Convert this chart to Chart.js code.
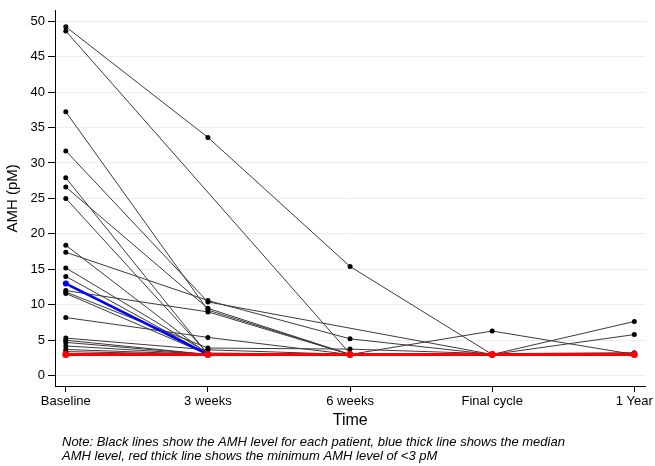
<!DOCTYPE html>
<html lang="en">
<head>
    <meta charset="UTF-8">
    <title>AMH over time</title>
    <script src="https://cdn.jsdelivr.net/npm/chart.js"></script>
    <style>
        body { margin: 0; background: #fff; }
    </style>
</head>
<body>
    <canvas id="amhChart" width="655" height="466"></canvas>

    <script>
        // time points on the x axis
        const timePoints = ["Baseline", "3 weeks", "6 weeks", "Final cycle", "1 Year"];
        const yTicks = [0, 5, 10, 15, 20, 25, 30, 35, 40, 45, 50];

        // AMH (pM) for each patient, null = not measured
        const patientAMH = [
            [49.2, 33.6, 15.4, 3.0, 3.0],
            [48.6, null, 3.1, 3.0, 3.0],
            [37.2, 9.25, 3.0, 3.0, 3.0],
            [31.7, 10.4, null, 3.0, 5.8],
            [27.9, 3.0, 3.0, 3.0, 3.0],
            [26.6, 9.5, 3.0, 3.0, 3.0],
            [25.0, 3.1, 3.0, 3.0, 3.0],
            [18.4, 3.0, 3.0, 3.0, 3.0],
            [17.4, 10.6, 5.2, 3.0, 3.0],
            [15.2, 3.2, 3.0, 3.0, 3.0],
            [14.0, 3.0, 3.0, 3.0, 3.0],
            [12.0, 9.0, 3.0, 6.3, 3.0],
            [11.8, 3.9, 3.75, 3.1, 3.25],
            [11.6, 3.0, 3.0, 3.0, 7.65],
            [8.2, 5.4, 3.0, 3.0, 3.0],
            [5.3, 3.65, 3.0, 3.0, 3.0],
            [5.0, 3.0, 3.0, 3.0, null],
            [4.7, 3.0, 3.0, 3.0, null],
            [4.2, 3.0, null, null, null],
            [3.7, 3.0, 3.0, null, null],
            [3.4, 3.0, null, null, null]
        ];
        const medianAMH = [13.0, 3.0, 3.0, 3.0, 3.0];
        const minimumAMH = [3.0, 3.0, 3.0, 3.0, 3.0];

        const noteLines = [
            "Note: Black lines show the AMH level for each patient, blue thick line shows the median",
            "AMH level, red thick line shows the minimum AMH level of <3 pM"
        ];

        const FONT = "'Liberation Sans', Arial, Helvetica, sans-serif";

        function toPoints(values) {
            return values.map((v, i) => ({ x: i, y: v }));
        }

        let datasets = [];

        // red first so it is drawn on top
        datasets.push({
            data: toPoints(minimumAMH),
            borderColor: "#ff0000",
            backgroundColor: "#ff0000",
            borderWidth: 3,
            pointRadius: 3.5,
            pointBorderWidth: 0
        });
        datasets.push({
            data: toPoints(medianAMH),
            borderColor: "#0000ff",
            backgroundColor: "#0000ff",
            borderWidth: 2.5,
            pointRadius: 3,
            pointBorderWidth: 0
        });
        patientAMH.forEach(function (row) {
            datasets.push({
                data: toPoints(row),
                borderColor: "#3a3a3a",
                backgroundColor: "#000000",
                borderWidth: 1,
                pointRadius: 2.5,
                pointBorderWidth: 0,
                spanGaps: true
            });
        });

        const notePlugin = {
            id: "note",
            afterDraw(chart) {
                const ctx = chart.ctx;
                ctx.save();
                ctx.fillStyle = "#000";
                ctx.font = "italic 13px " + FONT;
                ctx.textBaseline = "middle";
                ctx.textAlign = "left";
                ctx.fillText(noteLines[0], 62, 442);
                ctx.fillText(noteLines[1], 62, 456);
                ctx.restore();
            }
        };

        new Chart(document.getElementById("amhChart"), {
            type: "line",
            data: { datasets: datasets },
            options: {
                responsive: false,
                animation: false,
                devicePixelRatio: 1,
                layout: { padding: { left: 0, right: 7, top: 7, bottom: 36 } },
                plugins: {
                    legend: { display: false },
                    tooltip: { enabled: false }
                },
                elements: { line: { tension: 0 } },
                scales: {
                    x: {
                        type: "linear",
                        min: -0.076,
                        max: 4.079,
                        afterBuildTicks: function (scale) {
                            scale.ticks = timePoints.map((t, i) => ({ value: i }));
                        },
                        afterFit: function (scale) { scale.height = 44; },
                        ticks: {
                            autoSkip: false,
                            maxRotation: 0,
                            padding: 2,
                            color: "#000",
                            font: { family: FONT, size: 13 },
                            callback: function (value) { return timePoints[value]; }
                        },
                        grid: {
                            drawOnChartArea: false,
                            tickLength: 6,
                            tickColor: "#000"
                        },
                        border: { color: "#000", width: 1 },
                        title: {
                            display: true,
                            text: "Time",
                            color: "#000",
                            padding: { top: 0, bottom: 0 },
                            font: { family: FONT, size: 16 }
                        }
                    },
                    y: {
                        min: -1.45,
                        max: 51.45,
                        afterBuildTicks: function (scale) {
                            scale.ticks = yTicks.map(v => ({ value: v }));
                        },
                        afterFit: function (scale) { scale.width = 55; },
                        ticks: {
                            padding: 3,
                            color: "#000",
                            font: { family: FONT, size: 13 }
                        },
                        grid: {
                            color: "#e8eff2",
                            lineWidth: 1,
                            tickLength: 7,
                            tickColor: "#000"
                        },
                        border: { color: "#000", width: 1 },
                        title: {
                            display: true,
                            text: "AMH (pM)",
                            color: "#000",
                            padding: { top: 4, bottom: 0 },
                            font: { family: FONT, size: 15 }
                        }
                    }
                }
            },
            plugins: [notePlugin]
        });
    </script>
</body>
</html>
